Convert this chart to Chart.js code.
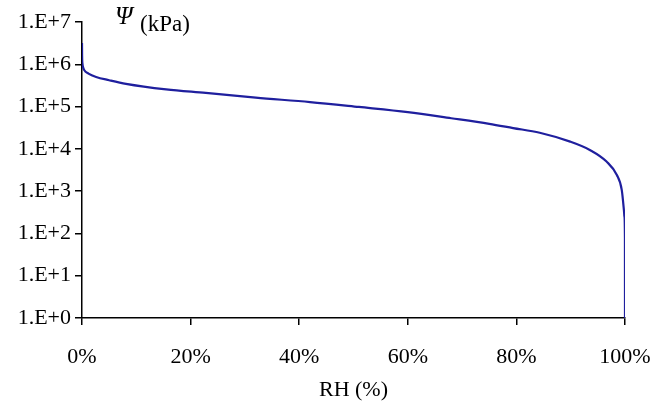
<!DOCTYPE html>
<html>
<head>
<meta charset="utf-8">
<script src="https://cdn.jsdelivr.net/npm/chart.js@4/dist/chart.umd.min.js"></script>
<style>
  html, body { margin: 0; padding: 0; background: #fff; }
  #wrap { width: 654px; height: 403px; }
</style>
</head>
<body>
<div id="wrap"><canvas id="grafico"></canvas></div>
<script>
// humedad relativa (%) y potencial (kPa)
const humedad = [0, 0.02, 0.1, 0.2, 0.4, 1.2, 2.6, 5, 8.1, 15.5, 22.8, 32, 42, 51, 60, 68, 75, 79.4, 84.3, 89.9, 93.6, 96.6, 98.5, 99.4, 99.8, 99.9, 99.99, 100];
const potencial = [3.2e6, 1.6e6, 1.0e6, 8.5e5, 7.3e5, 6.0e5, 5.0e5, 4.2e5, 3.45e5, 2.55e5, 2.1e5, 1.62e5, 1.28e5, 9.8e4, 7.4e4, 5.3e4, 3.9e4, 3.1e4, 2.4e4, 1.48e4, 9.3e3, 5.0e3, 2.4e3, 1.07e3, 355, 250, 78, 1];

const ticksY = [1, 10, 100, 1e3, 1e4, 1e5, 1e6, 1e7];
const etiquetasY = ['1.E+0', '1.E+1', '1.E+2', '1.E+3', '1.E+4', '1.E+5', '1.E+6', '1.E+7'];
const ticksX = [0, 20, 40, 60, 80, 100];

const fuente = { family: '"Liberation Serif", "Times New Roman", serif', size: 22 };

// titulo del eje y dentro del area
const tituloPsi = {
    id: 'tituloPsi',
    afterDraw(chart) {
        const ctx = chart.ctx;
        const area = chart.chartArea;
        ctx.save();
        ctx.fillStyle = '#000';
        ctx.textBaseline = 'middle';
        ctx.font = 'italic 25px "Liberation Serif", serif';
        ctx.fillText('\u03A8', area.left + 33, area.top - 5);
        ctx.font = '23px "Liberation Serif", serif';
        ctx.fillText('(kPa)', area.left + 58, area.top + 3);
        ctx.restore();
    }
};

const puntos = humedad.map((h, i) => ({ x: h, y: potencial[i] }));

new Chart(document.getElementById('grafico'), {
    type: 'line',
    data: {
        datasets: [{
            data: puntos,
            borderColor: '#1f1f9e',
            borderWidth: 2.2,
            pointRadius: 0,
            cubicInterpolationMode: 'monotone',
            fill: false
        }]
    },
    options: {
        responsive: true,
        maintainAspectRatio: false,
        animation: false,
        layout: { padding: { top: 22, right: 29, left: 0, bottom: 0 } },
        plugins: {
            legend: { display: false },
            tooltip: { enabled: false }
        },
        scales: {
            x: {
                type: 'linear',
                min: 0,
                max: 100,
                afterBuildTicks: s => { s.ticks = ticksX.map(v => ({ value: v })); },
                afterFit: s => { s.height = 85; s.paddingLeft = 0; s.paddingRight = 0; },
                grid: { drawOnChartArea: false, color: '#000', tickLength: 7, lineWidth: 1.5 },
                border: { color: '#000', width: 1.5 },
                ticks: {
                    color: '#000',
                    font: fuente,
                    padding: 19,
                    maxRotation: 0,
                    callback: v => v + '%'
                },
                title: {
                    display: true,
                    text: 'RH (%)',
                    color: '#000',
                    font: fuente,
                    padding: { top: 0, bottom: 0 }
                }
            },
            y: {
                type: 'logarithmic',
                min: 1,
                max: 1e7,
                afterBuildTicks: s => { s.ticks = ticksY.map(v => ({ value: v })); },
                afterFit: s => { s.width = 82; s.paddingTop = 0; s.paddingBottom = 0; },
                grid: { drawOnChartArea: false, color: '#000', tickLength: 7, lineWidth: 1.5 },
                border: { color: '#000', width: 1.5 },
                ticks: {
                    color: '#000',
                    font: fuente,
                    padding: 4,
                    callback: (v) => etiquetasY[ticksY.indexOf(v)]
                }
            }
        }
    },
    plugins: [tituloPsi]
});
</script>
</body>
</html>
